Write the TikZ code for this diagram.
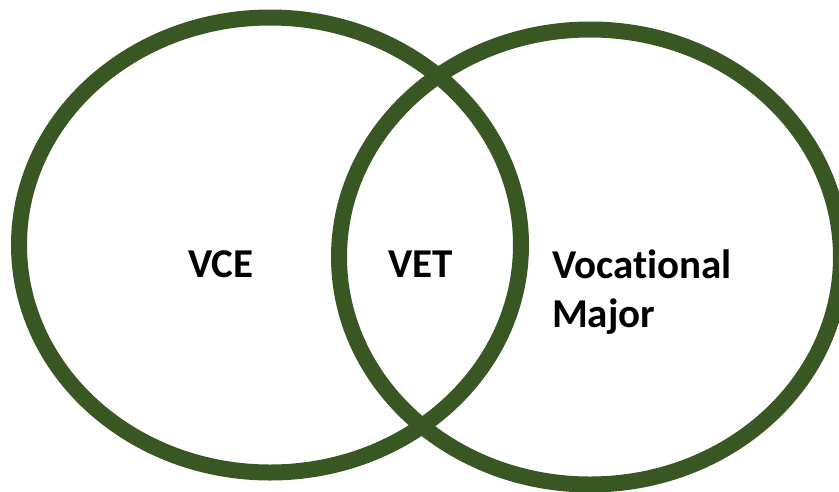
\documentclass[tikz,border=0pt]{standalone}
\usepackage{fontspec}
\setmainfont{Carlito}[Ligatures=NoCommon]
\usepackage{xcolor}
\usetikzlibrary{shapes.geometric}
\definecolor{ringgreen}{RGB}{56,87,35}

\begin{document}
\begin{tikzpicture}
[x=1pt,y=-1pt,every node/.style={inner sep=0pt,outer sep=0pt},
 ring/.style={ellipse,draw=ringgreen,line width=16pt,minimum width=502pt,minimum height=455pt},
 lbl/.style={font=\fontsize{41}{49}\selectfont\bfseries,align=left}]
  \useasboundingbox (0,0) rectangle (839,491);

  \node (vce) at (270,245) [ring] {};
  \node (vm) at (590,257) [ring] {};

  \node (tvce) at (188,277) [lbl,anchor=base west] {VCE};
  \node (tvet) at (388,277) [lbl,anchor=base west] {VET};
  \node (tvm) at (552,327) [lbl,anchor=base west] {Vocational\\Major};
\end{tikzpicture}
\end{document}
